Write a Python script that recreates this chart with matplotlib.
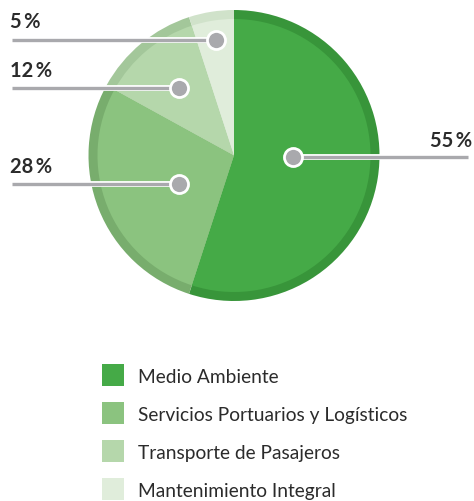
import matplotlib.pyplot as plt
from matplotlib.patches import Rectangle

plt.rcParams['font.family'] = ['Lato', 'DejaVu Sans']

categorias = ["Medio Ambiente", "Servicios Portuarios y Logísticos",
              "Transporte de Pasajeros", "Mantenimiento Integral"]
valores = [55, 28, 12, 5]
etiquetas = ["55%", "28%", "12%", "5%"]

cor_fill = ["#45aa47", "#8bc37f", "#b5d7ab", "#e0eddb"]
cor_borda = ["#38953a", "#78ad6d", "#a3c79a", "#d0e2ca"]

W, H = 474, 502
fig = plt.figure(figsize=(W / 100, H / 100), dpi=100)
ax = fig.add_axes([0, 0, 1, 1])

cx, cy = 234, H - 156.5
R = 145.5
anel = 9

ax.pie(valores, colors=cor_borda, startangle=90, counterclock=False,
       center=(cx, cy), radius=R, frame=True,
       wedgeprops=dict(linewidth=0))
ax.pie(valores, colors=cor_fill, startangle=90, counterclock=False,
       center=(cx, cy), radius=R - anel, frame=True,
       wedgeprops=dict(linewidth=0))
ax.set_xlim(0, W)
ax.set_ylim(0, H)
ax.set_aspect("equal")
ax.axis("off")

# posicoes dos marcadores (px) e das linhas
pontos = [(293, 158), (179, 185), (179, 89), (216, 41)]
linha_x = [468, 12, 12, 12]
texto_pos = [(472, 147, "right"), (10, 173, "left"),
             (10, 77, "left"), (10, 28, "left")]

for (px, py), lx, (tx, ty, ha), txt in zip(pontos, linha_x, texto_pos, etiquetas):
    y = H - py
    ax.plot([lx, px], [y, y], color="white", lw=4.2, solid_capstyle="butt", zorder=3)
    ax.plot([lx, px], [y, y], color="#a9a9ad", lw=2.4, solid_capstyle="butt", zorder=4)
    ax.plot(px, y, "o", ms=13, color="#a9a9ad", mec="white", mew=2, zorder=5)
    ax.text(tx, H - ty, txt.replace("%", "\u2009%"), ha=ha, va="baseline",
            fontsize=14.5, fontweight="bold", color="#2b2b2b")

# legenda
for i, (nome, cor) in enumerate(zip(categorias, cor_fill)):
    yc = H - (376 + 38 * i)
    ax.add_patch(Rectangle((102, yc - 11), 22, 22, color=cor, lw=0))
    ax.text(138, yc - 7, nome, ha="left", va="baseline", fontsize=13.8,
            color="#2b2b2b")

fig.savefig("out.png", dpi=100)
